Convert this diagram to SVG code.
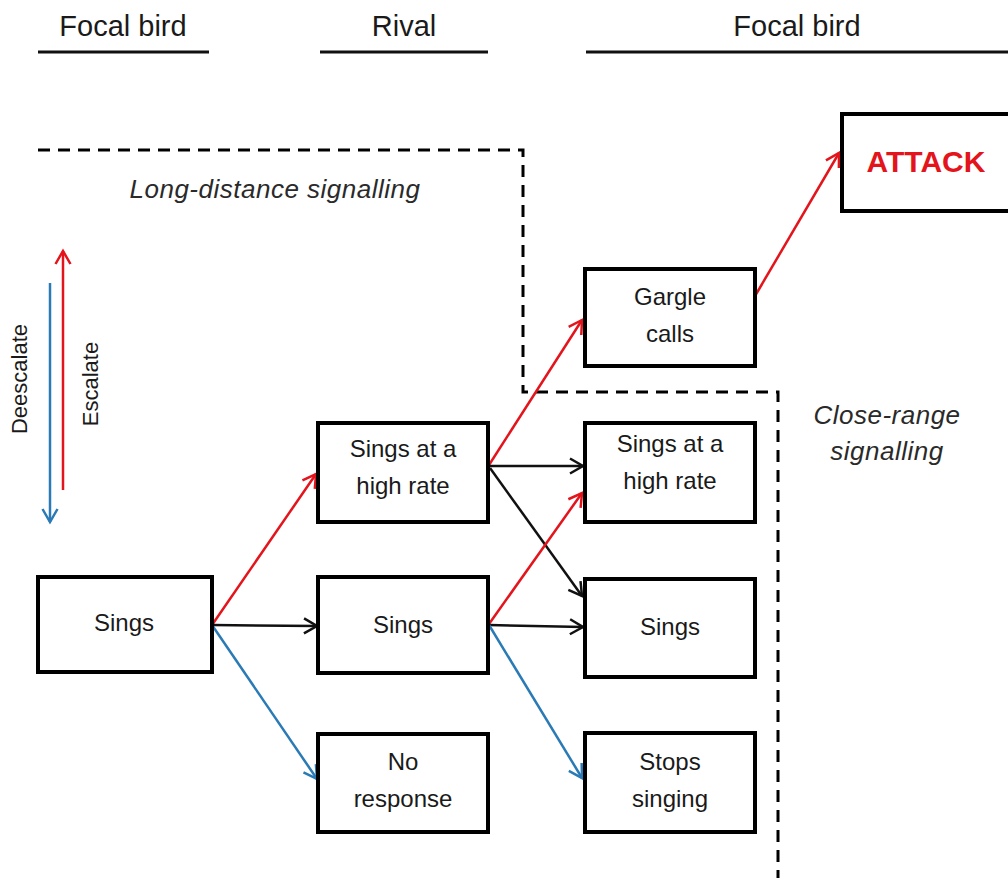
<svg xmlns="http://www.w3.org/2000/svg" width="1008" height="878" viewBox="0 0 1008 878">
<style>
.hdr{font-family:"Liberation Sans",Arial,sans-serif;font-size:29px;fill:#1a1a1a;text-anchor:middle}
.hline{stroke:#111;stroke-width:3;fill:none}
.box{fill:#fff;stroke:#000;stroke-width:4}
.lbl{font-family:"Liberation Sans",Arial,sans-serif;font-size:24px;fill:#1a1a1a;text-anchor:middle}
.ital{font-family:"Liberation Sans",Arial,sans-serif;font-size:26px;font-style:italic;fill:#2a2a2a;text-anchor:middle;letter-spacing:0.5px}
.side{font-family:"Liberation Sans",Arial,sans-serif;font-size:22px;fill:#1a1a1a;text-anchor:middle}
.dash{stroke:#000;stroke-width:3;fill:none;stroke-dasharray:12 8}
.c{fill:none;stroke-width:2.5}
.red{stroke:#e3141b}
.blk{stroke:#111}
.blu{stroke:#2a7ab5}
</style>
<defs>
<marker id="aR" markerUnits="userSpaceOnUse" markerWidth="20" markerHeight="20" refX="0" refY="0" viewBox="-14 -10 16 20" orient="auto" overflow="visible"><path d="M-13,-7.5 L0,0 L-13,7.5" fill="none" stroke="#e3141b" stroke-width="2.5"/></marker>
<marker id="aK" markerUnits="userSpaceOnUse" markerWidth="20" markerHeight="20" refX="0" refY="0" viewBox="-14 -10 16 20" orient="auto" overflow="visible"><path d="M-13,-7.5 L0,0 L-13,7.5" fill="none" stroke="#111" stroke-width="2.5"/></marker>
<marker id="aB" markerUnits="userSpaceOnUse" markerWidth="20" markerHeight="20" refX="0" refY="0" viewBox="-14 -10 16 20" orient="auto" overflow="visible"><path d="M-13,-7.5 L0,0 L-13,7.5" fill="none" stroke="#2a7ab5" stroke-width="2.5"/></marker>
</defs>
<rect width="1008" height="878" fill="#fff"/>

<g id="headers">
<text class="hdr" x="123" y="36">Focal bird</text>
<line class="hline" x1="38" y1="52" x2="209" y2="52"/>
<text class="hdr" x="404" y="36">Rival</text>
<line class="hline" x1="320" y1="52" x2="488" y2="52"/>
<text class="hdr" x="797" y="36">Focal bird</text>
<line class="hline" x1="586" y1="52" x2="1008" y2="52"/>
</g>

<g id="regions">
<polyline class="dash" points="38,150 523,150 523,392 778,392 778,880"/>
<text class="ital" x="275" y="198">Long-distance signalling</text>
<text class="ital" x="887" y="424">Close-range</text>
<text class="ital" x="887" y="460">signalling</text>
</g>

<g id="scale">
<line x1="50" y1="283" x2="50" y2="522" class="c blu" marker-end="url(#aB)"/>
<line x1="63" y1="490" x2="63" y2="251" class="c red" marker-end="url(#aR)"/>
<text class="side" transform="translate(27,379) rotate(-90)">Deescalate</text>
<text class="side" transform="translate(98,384) rotate(-90)">Escalate</text>
</g>

<g id="connectors">
<line class="c red" x1="212" y1="625" x2="316" y2="474" marker-end="url(#aR)"/>
<line class="c blk" x1="212" y1="625" x2="317" y2="626" marker-end="url(#aK)"/>
<line class="c blu" x1="212" y1="625" x2="317" y2="779" marker-end="url(#aB)"/>
<line class="c red" x1="489" y1="465" x2="582" y2="320" marker-end="url(#aR)"/>
<line class="c blk" x1="489" y1="466" x2="583" y2="466" marker-end="url(#aK)"/>
<line class="c blk" x1="490" y1="468" x2="582" y2="596" marker-end="url(#aK)"/>
<line class="c red" x1="489" y1="624" x2="582" y2="493" marker-end="url(#aR)"/>
<line class="c blk" x1="489" y1="625" x2="583" y2="627" marker-end="url(#aK)"/>
<line class="c blu" x1="489" y1="625" x2="582" y2="778" marker-end="url(#aB)"/>
<line class="c red" x1="755" y1="296" x2="839" y2="153" marker-end="url(#aR)"/>
</g>

<g id="n-focal-sings">
<rect class="box" x="38" y="577" width="174" height="95"/>
<text class="lbl" x="124" y="631">Sings</text>
</g>
<g id="n-rival-high">
<rect class="box" x="318" y="423" width="170" height="99"/>
<text class="lbl" x="403" y="457">Sings at a</text>
<text class="lbl" x="403" y="494">high rate</text>
</g>
<g id="n-rival-sings">
<rect class="box" x="318" y="577" width="170" height="96"/>
<text class="lbl" x="403" y="633">Sings</text>
</g>
<g id="n-rival-none">
<rect class="box" x="318" y="734" width="170" height="98"/>
<text class="lbl" x="403" y="770">No</text>
<text class="lbl" x="403" y="807">response</text>
</g>
<g id="n-gargle">
<rect class="box" x="585" y="269" width="170" height="97"/>
<text class="lbl" x="670" y="305">Gargle</text>
<text class="lbl" x="670" y="342">calls</text>
</g>
<g id="n-focal-high">
<rect class="box" x="585" y="423" width="170" height="99"/>
<text class="lbl" x="670" y="452">Sings at a</text>
<text class="lbl" x="670" y="489">high rate</text>
</g>
<g id="n-focal-sings2">
<rect class="box" x="585" y="579" width="170" height="98"/>
<text class="lbl" x="670" y="635">Sings</text>
</g>
<g id="n-stops">
<rect class="box" x="585" y="733" width="170" height="99"/>
<text class="lbl" x="670" y="770">Stops</text>
<text class="lbl" x="670" y="807">singing</text>
</g>
<g id="n-attack">
<rect class="box" x="842" y="114" width="172" height="97"/>
<text x="926" y="172" font-family="Liberation Sans, Arial, sans-serif" font-size="30" font-weight="bold" fill="#e3141b" text-anchor="middle">ATTACK</text>
</g>
</svg>
